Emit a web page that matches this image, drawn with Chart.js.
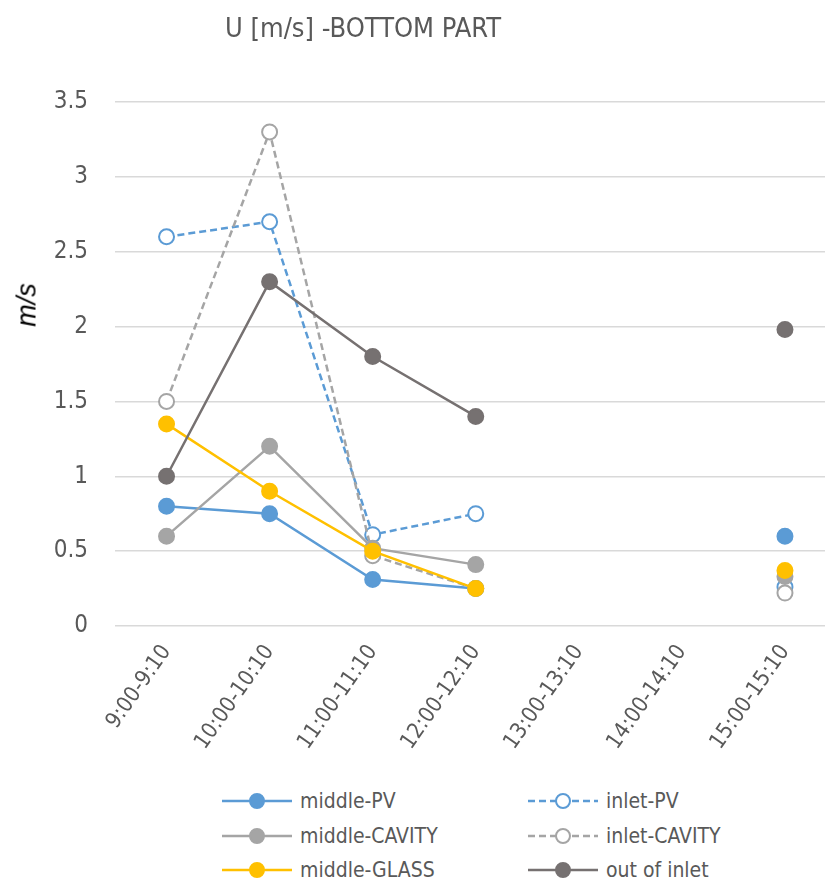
<!DOCTYPE html>
<html>
<head>
<meta charset="utf-8">
<script src="https://cdn.jsdelivr.net/npm/chart.js@4.4.1/dist/chart.umd.min.js"></script>
<style>
  body { margin: 0; background: #fff; font-family: "DejaVu Sans Condensed", "Liberation Sans Narrow", sans-serif; color: #595959; }
  #wrap { position: relative; width: 825px; height: 885px; overflow: hidden; }
  #title { position: absolute; left: 225px; top: 12px; font-size: 27px; white-space: nowrap; }
  #yTitle { position: absolute; left: 27px; top: 305px; transform: translate(-50%, -50%) rotate(-90deg);
            font-family: "Liberation Sans", Arial, sans-serif; font-style: italic; font-size: 27px; color: #000; white-space: nowrap; }
  #chartBox { position: absolute; left: 0; top: 0; width: 846px; height: 770px; }
  #legend { position: absolute; left: 0; top: 784px; width: 825px; }
  .item { position: absolute; height: 34px; display: flex; align-items: center; font-size: 21px; white-space: nowrap; }
  .item canvas { margin-right: 8px; }
</style>
</head>
<body>
<div id="wrap">
  <div id="chartBox"><canvas id="chart1"></canvas></div>
  <div id="title">U [m/s] -BOTTOM PART</div>
  <div id="yTitle">m/s</div>
  <div id="legend"></div>
</div>
<script>
const timeSlots = ['9:00-9:10', '10:00-10:10', '11:00-11:10', '12:00-12:10', '13:00-13:10', '14:00-14:10', '15:00-15:10'];
const yTicks = [0, 0.5, 1, 1.5, 2, 2.5, 3, 3.5];

const middlePV     = [0.80, 0.75, 0.31, 0.25, null, null, 0.60];
const inletPV      = [2.60, 2.70, 0.61, 0.75, null, null, 0.26];
const middleCavity = [0.60, 1.20, 0.52, 0.41, null, null, 0.33];
const inletCavity  = [1.50, 3.30, 0.47, 0.25, null, null, 0.22];
const middleGlass  = [1.35, 0.90, 0.50, 0.25, null, null, 0.37];
const outOfInlet   = [1.00, 2.30, 1.80, 1.40, null, null, 1.98];

const seriesNames = ['middle-PV', 'inlet-PV', 'middle-CAVITY', 'inlet-CAVITY', 'middle-GLASS', 'out of inlet'];
const seriesData = [middlePV, inletPV, middleCavity, inletCavity, middleGlass, outOfInlet];
const seriesColors = ['#5B9BD5', '#5B9BD5', '#A5A5A5', '#A5A5A5', '#FFC000', '#767171'];
const seriesDashed = [false, true, false, true, false, false];

const FONT = '"DejaVu Sans Condensed", "Liberation Sans Narrow", sans-serif';
const DASH = [7, 4];

// later series sit on top of earlier ones
const datasets = seriesNames.map((name, i) => ({
  label: name,
  data: seriesData[i],
  borderColor: seriesColors[i],
  borderWidth: 2.5,
  borderDash: seriesDashed[i] ? DASH : [],
  pointRadius: 7.5,
  pointHoverRadius: 7.5,
  pointBorderWidth: 2,
  pointBorderColor: seriesColors[i],
  pointBackgroundColor: seriesDashed[i] ? '#ffffff' : seriesColors[i],
  spanGaps: false,
  tension: 0,
  order: seriesNames.length - i
}));

new Chart(document.getElementById('chart1'), {
  type: 'line',
  data: { labels: timeSlots, datasets: datasets },
  options: {
    responsive: true,
    maintainAspectRatio: false,
    animation: false,
    layout: { padding: { top: 102, right: 4, left: 0, bottom: 0 } },
    plugins: { legend: { display: false }, tooltip: { enabled: false } },
    scales: {
      x: {
        offset: true,
        grid: { display: false },
        border: { display: false },
        ticks: {
          color: '#595959',
          font: { family: FONT, size: 22 },
          minRotation: 55,
          maxRotation: 55,
          padding: 6
        },
        afterFit: s => { s.height = 144; }
      },
      y: {
        min: 0,
        max: 3.5,
        afterBuildTicks: s => { s.ticks = yTicks.map(v => ({ value: v })); },
        grid: { color: '#D9D9D9', lineWidth: 1.5, drawTicks: false },
        border: { display: false },
        ticks: {
          color: '#595959',
          font: { family: FONT, size: 24 },
          padding: 27,
          callback: v => String(v)
        },
        afterFit: s => { s.width = 115; }
      }
    }
  }
});

// two-column legend below the plot
const legendBox = document.getElementById('legend');
const legendPos = [[222, 0], [528, 0], [222, 35], [528, 35], [222, 69], [528, 69]];
seriesNames.forEach((name, i) => {
  const item = document.createElement('div');
  item.className = 'item';
  item.style.left = legendPos[i][0] + 'px';
  item.style.top = legendPos[i][1] + 'px';
  const c = document.createElement('canvas');
  c.width = 70; c.height = 20;
  const ctx = c.getContext('2d');
  ctx.strokeStyle = seriesColors[i];
  ctx.lineWidth = 2.5;
  ctx.setLineDash(seriesDashed[i] ? DASH : []);
  ctx.beginPath(); ctx.moveTo(0, 10); ctx.lineTo(70, 10); ctx.stroke();
  ctx.setLineDash([]);
  ctx.beginPath(); ctx.arc(35, 10, 7, 0, Math.PI * 2);
  ctx.fillStyle = seriesDashed[i] ? '#ffffff' : seriesColors[i];
  ctx.fill(); ctx.lineWidth = 2; ctx.stroke();
  item.appendChild(c);
  const t = document.createElement('span');
  t.textContent = name;
  item.appendChild(t);
  legendBox.appendChild(item);
});
</script>
</body>
</html>
